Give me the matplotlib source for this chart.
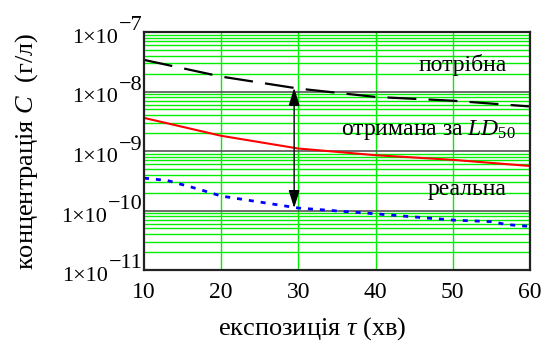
import matplotlib
matplotlib.use("Agg")
import matplotlib.pyplot as plt
from matplotlib.ticker import FixedLocator, NullFormatter
from matplotlib.transforms import blended_transform_factory, offset_copy, ScaledTranslation

plt.rcParams['font.family'] = ['Liberation Serif', 'DejaVu Serif']
plt.rcParams['mathtext.fontset'] = 'custom'
plt.rcParams['mathtext.rm'] = 'Liberation Serif'
plt.rcParams['mathtext.it'] = 'Liberation Serif:italic'

t = [10, 20, 30, 40, 50, 60]
needed = [3.4e-8, 1.78e-8, 1.12e-8, 8.1e-9, 7.0e-9, 5.6e-9]
ld50 = [3.6e-9, 1.8e-9, 1.1e-9, 8.5e-10, 7.1e-10, 5.6e-10]
t_real = [10, 13, 17, 20, 30, 40, 50, 55, 57, 60]
real = [3.5e-10, 3.2e-10, 2.3e-10, 1.75e-10, 1.1e-10, 8.8e-11, 6.9e-11, 6.5e-11, 5.8e-11, 5.4e-11]
arrow_t = 29.45
arrow_top, arrow_bottom = 1.15e-8, 1.1e-10
xticks = [10, 20, 30, 40, 50, 60]
yticks = [1e-11, 1e-10, 1e-9, 1e-8, 1e-7]
ytick_base = '1×10'
ytick_exp = ['−11', '−10', '−9', '−8', '−7']

W, H = 548, 343
fig = plt.figure(figsize=(W/100, H/100), dpi=100)
ax = fig.add_axes([144/W, 1-270/H, (530-144)/W, (270-32)/H])
ax.set_yscale('log')
ax.set_xlim(10, 60)
ax.set_ylim(1e-11, 1e-7)

# grid
minor = [m * 10.0**k for k in range(-11, -7) for m in range(2, 10)]
for y in minor:
    ax.axhline(y, color='#00ee00', lw=1.0, zorder=1)
for y in yticks:
    ax.axhline(y, color='#555555', lw=1.2, zorder=2)
for x in xticks[1:-1]:
    ax.axvline(x, color='#00ee00', lw=1.0, zorder=1)

ax.plot(t, needed, color='black', lw=1.6, dashes=(13, 5.5), zorder=4)
ax.plot(t, ld50, color='red', lw=1.5, zorder=4)
ax.plot(t_real, real, color='blue', lw=2.0, dashes=(1.8, 2.5), zorder=4)

ax.annotate('', xy=(arrow_t, arrow_top), xytext=(arrow_t, arrow_bottom),
            arrowprops=dict(arrowstyle='<|-|>,head_length=0.9,head_width=0.28',
                            color='black', lw=1.0,
                            mutation_scale=12, shrinkA=0, shrinkB=0), zorder=5)

def fx(px):
    return px / W

def fy(py):
    return 1 - py / H

fig.text(fx(507), fy(71), 'потрібна', fontsize=17, ha='right', va='baseline', zorder=6)
fig.text(fx(516), fy(135), r'отримана за $\mathit{LD}_{\mathit{50}}$', fontsize=17,
         ha='right', va='baseline', zorder=6)
fig.text(fx(507), fy(195), 'реальна', fontsize=17, ha='right', va='baseline', zorder=6)

ax.set_xticks(xticks)
ax.set_xticklabels([str(v) for v in xticks], fontsize=17)
shift = ScaledTranslation(5/100, 0, fig.dpi_scale_trans)
for lab in ax.get_xticklabels():
    lab.set_transform(lab.get_transform() + shift)
ax.yaxis.set_major_locator(FixedLocator(yticks))
ax.set_yticklabels([])
ax.yaxis.set_minor_formatter(NullFormatter())
ax.tick_params(which='both', length=0)
ax.tick_params(axis='x', pad=9)

# y tick labels: 1x10 with a full-size exponent
trans = blended_transform_factory(ax.transAxes, ax.transData)
for y, e in zip(yticks, ytick_exp):
    et = ax.text(0, y, e, fontsize=16, ha='right', va='baseline',
                 transform=offset_copy(trans, fig=fig, x=-1.5, y=1.5, units='dots'))
    ax.annotate(ytick_base, xy=(0, 0), xycoords=et, xytext=(-0.3, -5.4),
                textcoords='offset points', fontsize=16, ha='right', va='baseline',
                annotation_clip=False)

for s in ax.spines.values():
    s.set_linewidth(1.6)
    s.set_color('#222222')
    s.set_zorder(7)

fig.text(fx(312), fy(329), r'експозиція $\mathit{\tau}$ (хв)', fontsize=19, ha='center', va='center')
fig.text(fx(27), fy(151), r'концентрація $\mathit{C}$  (г/л)', fontsize=19, ha='center',
         va='center', rotation=90)

fig.savefig('out.png', dpi=100)
